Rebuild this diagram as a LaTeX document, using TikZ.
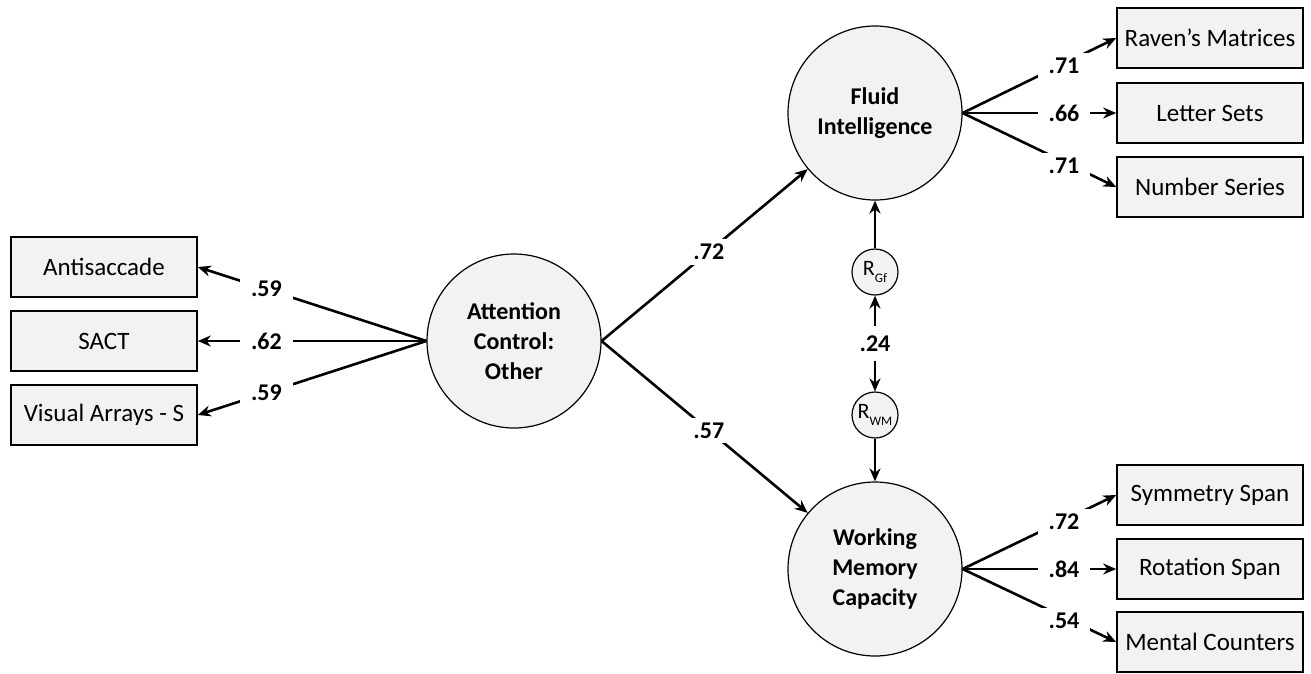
\documentclass[tikz,border=0pt]{standalone}
\usepackage{fontspec}
\setmainfont{Carlito}
\usetikzlibrary{arrows.meta}

\begin{document}
\begin{tikzpicture}[x=1pt, y=-1pt,
    latent/.style={circle, draw, line width=1.2pt, fill=boxgray, minimum size=174pt, inner sep=0pt, align=center, font=\fontsize{24}{30}\selectfont\bfseries},
    manifest/.style={rectangle, draw, line width=1.6pt, fill=boxgray, minimum width=186pt, minimum height=60pt, font=\fontsize{25}{30}\selectfont},
    resid/.style={circle, draw, line width=1.2pt, fill=boxgray, minimum size=46pt, inner sep=0pt, font=\fontsize{22}{22}\selectfont},
    load/.style={line width=2.6pt, -{Stealth[length=13pt, width=11pt]}},
    coef/.style={fill=white, inner xsep=11pt, inner ysep=5pt, font=\fontsize{24}{24}\selectfont\bfseries}]

    \definecolor{boxgray}{gray}{0.95}
    \useasboundingbox (0,0) rectangle (1311,673);

    \def\sub#1{\raisebox{-0.3em}{\fontsize{13}{13}\selectfont #1}}

    % latent variables
    \node[latent] (att) at (514,341) {Attention\\Control:\\Other};
    \node[latent] (gf) at (875,113) {Fluid\\Intelligence};
    \node[latent] (wmc) at (875,569) {Working\\Memory\\Capacity};

    % residuals
    \node[resid] (rgf) at (875,272) {R\sub{Gf}};
    \node[resid] (rwm) at (875,415) {R\sub{WM}};

    % attention control tasks
    \node[manifest] (anti) at (104,267) {Antisaccade};
    \node[manifest] (sact) at (104,341) {SACT};
    \node[manifest] (vas) at (104,415) {Visual Arrays - S};

    % fluid intelligence tasks
    \node[manifest] (raven) at (1210,38) {Raven’s Matrices};
    \node[manifest] (letter) at (1210,113) {Letter Sets};
    \node[manifest] (number) at (1210,187) {Number Series};

    % working memory tasks
    \node[manifest] (sym) at (1210,495) {Symmetry Span};
    \node[manifest] (rot) at (1210,569) {Rotation Span};
    \node[manifest] (count) at (1210,642) {Mental Counters};

    % loadings
    \draw[load] (att.west) -- node[coef, pos=0.7] {.59} (anti.east);
    \draw[load] (att.west) -- node[coef, pos=0.7] {.62} (sact.east);
    \draw[load] (att.west) -- node[coef, pos=0.7] {.59} (vas.east);

    \draw[load] (gf.east) -- node[coef, pos=0.66, yshift=-2pt] {.71} (raven.west);
    \draw[load] (gf.east) -- node[coef, pos=0.66] {.66} (letter.west);
    \draw[load] (gf.east) -- node[coef, pos=0.66, yshift=-4pt] {.71} (number.west);

    \draw[load] (wmc.east) -- node[coef, pos=0.66, yshift=-2pt] {.72} (sym.west);
    \draw[load] (wmc.east) -- node[coef, pos=0.66] {.84} (rot.west);
    \draw[load] (wmc.east) -- node[coef, pos=0.66, yshift=-4pt] {.54} (count.west);

    % structural paths
    \draw[load] (att.east) -- node[coef, pos=0.52] {.72} (gf);
    \draw[load] (att.east) -- node[coef, pos=0.52] {.57} (wmc);

    % residual paths
    \draw[load] (rgf) -- (gf);
    \draw[load] (rwm) -- (wmc);
    \draw[load, {Stealth[length=13pt, width=11pt]}-{Stealth[length=13pt, width=11pt]}] (rgf) -- node[coef, inner xsep=6pt, inner ysep=10pt] {.24} (rwm);
\end{tikzpicture}
\end{document}
